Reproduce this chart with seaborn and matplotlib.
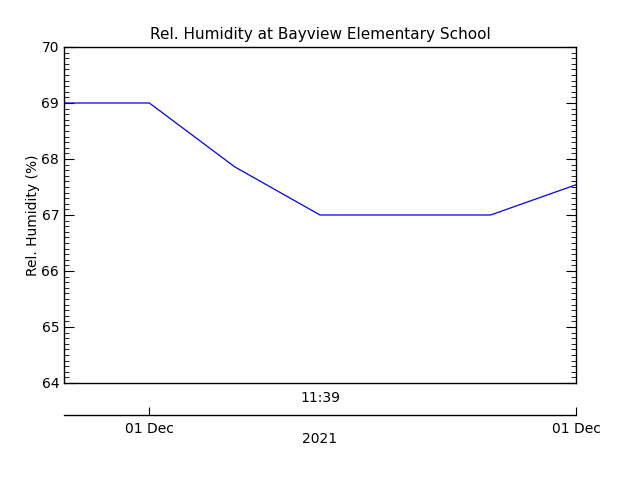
import pandas as pd
import seaborn as sns
from matplotlib import pyplot as plt
from matplotlib.ticker import MultipleLocator

# readings (one every step)
steps = [0, 1, 2, 3, 4, 5, 6]
humidity = [69.0, 69.0, 67.86, 67.0, 67.0, 67.0, 67.54]
date_ticks = [1, 6]
date_labels = ["01 Dec", "01 Dec"]

df = pd.DataFrame({"step": steps, "humidity": humidity})

sns.set_style("white")
plt.rcParams["font.family"] = ["DejaVu Sans"]
plt.rcParams["text.color"] = "black"
plt.rcParams["axes.labelcolor"] = "black"

fig = plt.figure(figsize=(6.4, 4.8), dpi=100)
ax = fig.add_axes([0.1, 0.2021, 0.8, 0.7])

sns.lineplot(x="step", y="humidity", data=df, color="blue", linewidth=0.9, ax=ax)

ax.set_xlim(0, 6)
ax.set_ylim(64, 70)
ax.yaxis.set_major_locator(MultipleLocator(1))
ax.yaxis.set_minor_locator(MultipleLocator(0.1))
ax.tick_params(axis="y", which="both", direction="in", left=True, right=True, colors="black", labelsize=10)
ax.tick_params(axis="y", which="major", length=7)
ax.tick_params(axis="y", which="minor", length=3.5)
ax.set_xticks([])
ax.set_xlabel("")
ax.set_ylabel("Rel. Humidity (%)", fontsize=10, labelpad=1, color="black")
for s in ax.spines.values():
    s.set_color("black")
    s.set_linewidth(1)
ax.set_title("Rel. Humidity at Bayview Elementary School", fontsize=11, pad=6, color="black")

ax.text(3, -0.045, "11:39", transform=ax.get_xaxis_transform(), ha="center", va="center", fontsize=10)

# lower date axis
ax2 = fig.add_axes([0.1, 65 / 480, 0.8, 0.0001])
ax2.set_xlim(0, 6)
ax2.set_yticks([])
for k in ["top", "left", "right"]:
    ax2.spines[k].set_visible(False)
ax2.spines["bottom"].set_color("black")
ax2.spines["bottom"].set_linewidth(1)
ax2.set_xticks(date_ticks)
ax2.set_xticklabels(date_labels)
ax2.tick_params(axis="x", bottom=True, direction="in", length=6, pad=5, labelsize=10, colors="black")
ax2.set_xlabel("2021", fontsize=10, labelpad=-3, color="black")

fig.savefig("out.png", dpi=100)
